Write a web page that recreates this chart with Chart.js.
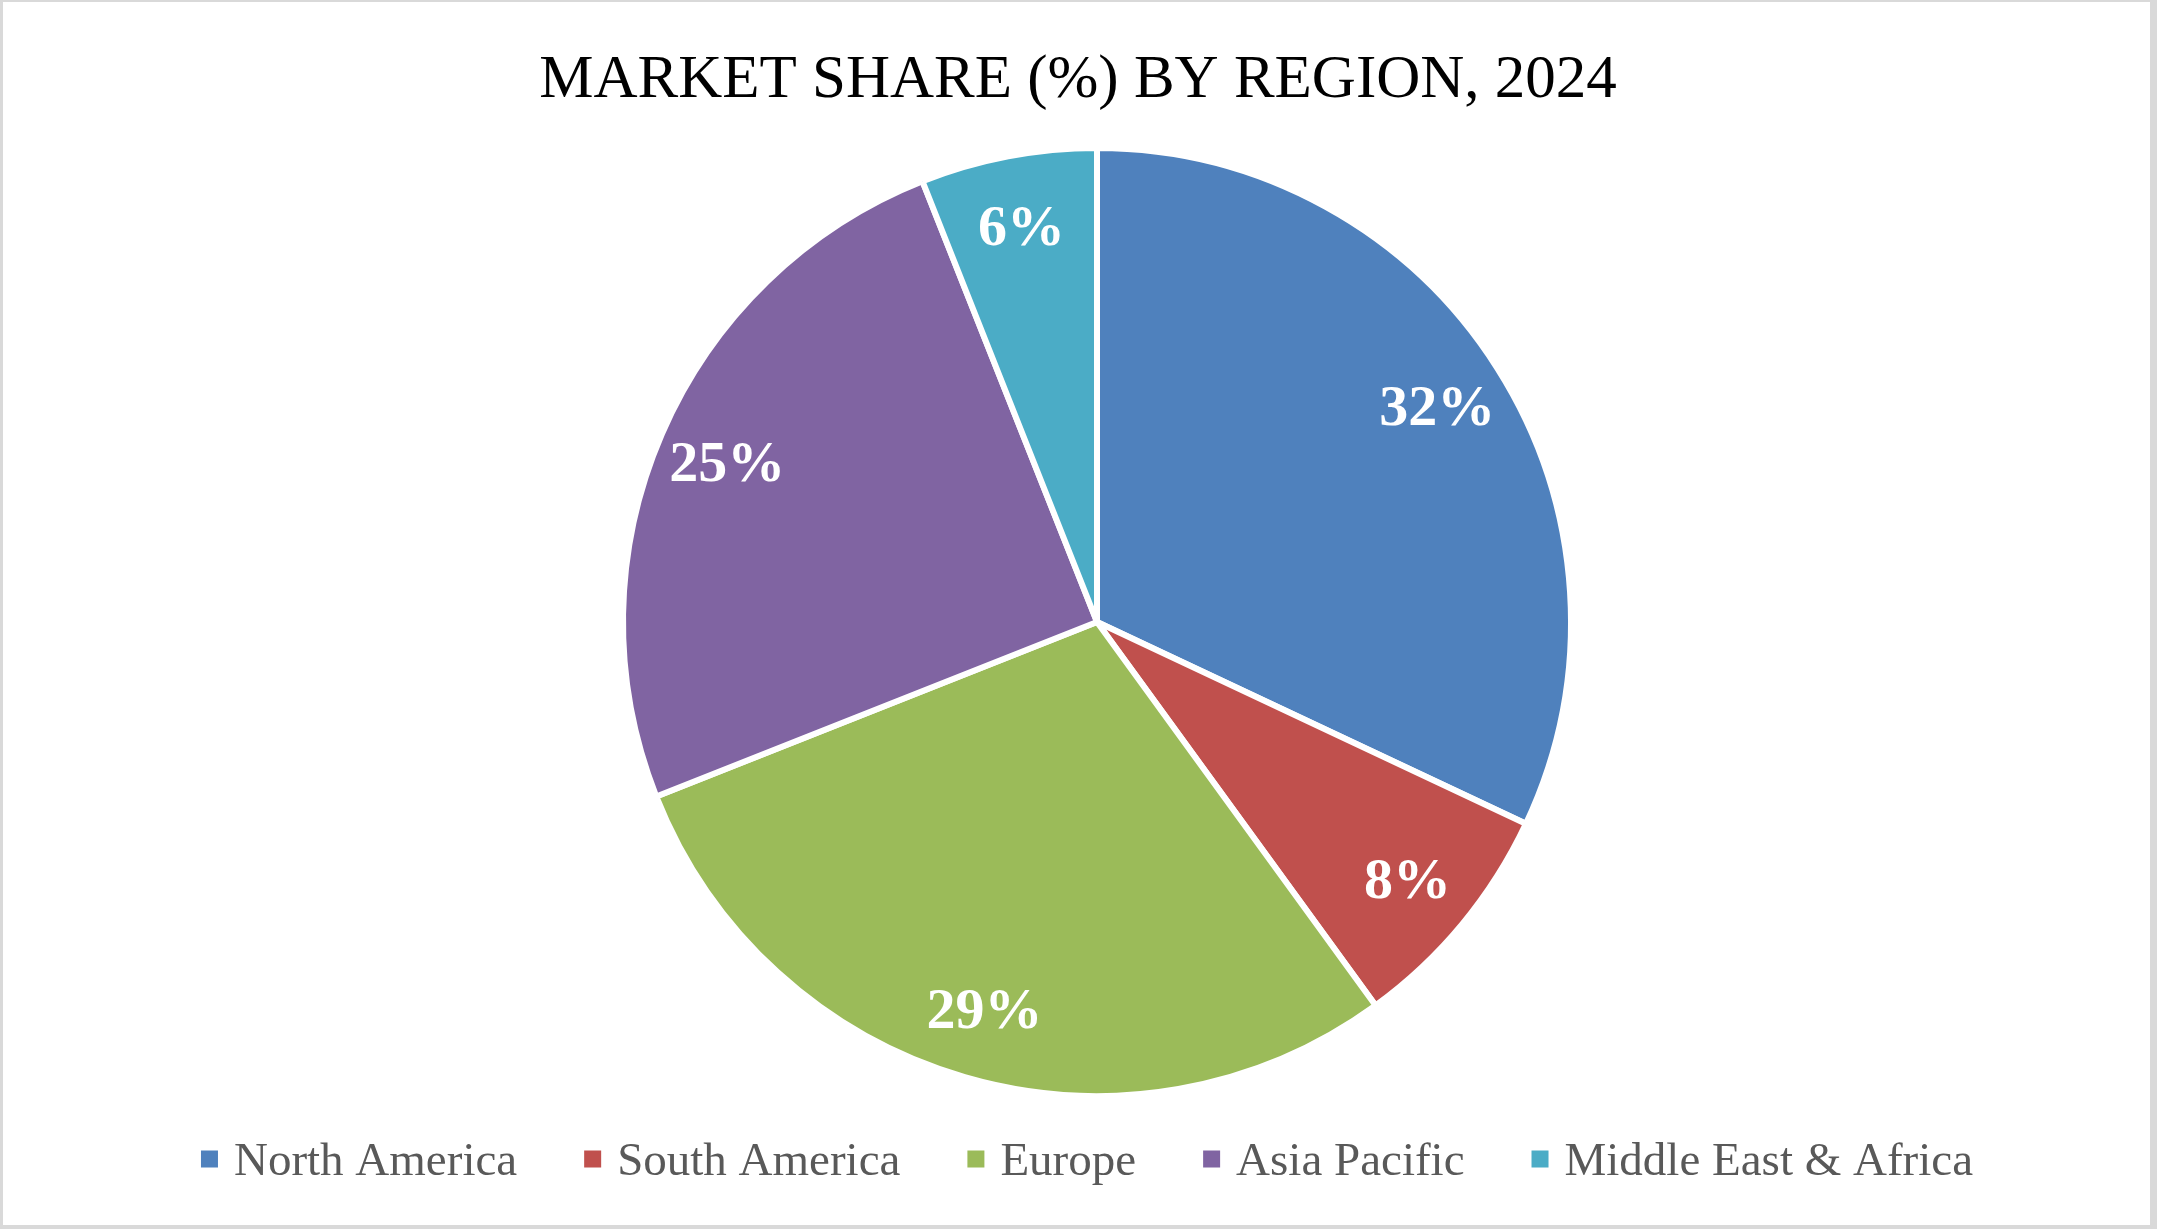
<!DOCTYPE html>
<html>
<head>
<meta charset="utf-8">
<script src="https://cdn.jsdelivr.net/npm/chart.js@4.4.1/dist/chart.umd.min.js"></script>
<style>
  html, body { margin: 0; padding: 0; background: #d9d9d9; }
  #wrap { position: absolute; left: 3px; top: 2px; width: 2147px; height: 1223px; background: #ffffff; }
</style>
</head>
<body>
<div id="wrap"><canvas id="shareChart"></canvas></div>
<script>
// chart data
const chartTitle = "MARKET SHARE (%) BY REGION, 2024";
const regions = ["North America", "South America", "Europe", "Asia Pacific", "Middle East & Africa"];
const shares = [32, 8, 29, 25, 6];
const regionColors = ["#4F81BD", "#C0504D", "#9BBB59", "#8064A2", "#4BACC6"];

const serif = "'Liberation Serif', 'Times New Roman', serif";

// percent labels inside the slices
const sliceLabels = {
    id: "sliceLabels",
    afterDatasetsDraw(chart) {
        const ctx = chart.ctx;
        const meta = chart.getDatasetMeta(0);
        ctx.save();
        ctx.font = "bold 58px " + serif;
        ctx.fillStyle = "#ffffff";
        ctx.textAlign = "center";
        ctx.textBaseline = "middle";
        meta.data.forEach((arc, i) => {
            const mid = (arc.startAngle + arc.endAngle) / 2;
            const r = arc.outerRadius * 0.85;
            ctx.fillText(shares[i] + "%", arc.x + Math.cos(mid) * r, arc.y + Math.sin(mid) * r + 4);
        });
        ctx.restore();
    }
};

// title and legend drawn where the reference has them
const frameText = {
    id: "frameText",
    afterDraw(chart) {
        const ctx = chart.ctx;
        ctx.save();

        ctx.font = "61px " + serif;
        ctx.fillStyle = "#000000";
        ctx.textAlign = "center";
        ctx.textBaseline = "alphabetic";
        ctx.fillText(chartTitle, 1075, 95);

        ctx.font = "47px " + serif;
        const box = 17;
        const toText = 33;
        const gap = 67;
        const widths = regions.map(r => ctx.measureText(r).width);
        let total = 0;
        widths.forEach((w, i) => {
            total += toText + w + (i < widths.length - 1 ? gap : 0);
        });
        let x = 1084 - total / 2;
        ctx.textAlign = "left";
        regions.forEach((r, i) => {
            ctx.fillStyle = regionColors[i];
            ctx.fillRect(x, 1157 - box / 2, box, box);
            ctx.fillStyle = "#595959";
            ctx.fillText(r, x + toText, 1173);
            x += toText + widths[i] + gap;
        });

        ctx.restore();
    }
};

new Chart(document.getElementById("shareChart"), {
    type: "pie",
    data: {
        labels: regions,
        datasets: [
            {
                data: shares,
                backgroundColor: regionColors,
                borderColor: "#ffffff",
                borderWidth: 6
            }
        ]
    },
    options: {
        responsive: true,
        maintainAspectRatio: false,
        animation: false,
        devicePixelRatio: 1,
        layout: {
            padding: { top: 143, bottom: 126, left: 41, right: 0 }
        },
        plugins: {
            legend: { display: false },
            title: { display: false },
            tooltip: { enabled: false }
        }
    },
    plugins: [sliceLabels, frameText]
});
</script>
</body>
</html>
